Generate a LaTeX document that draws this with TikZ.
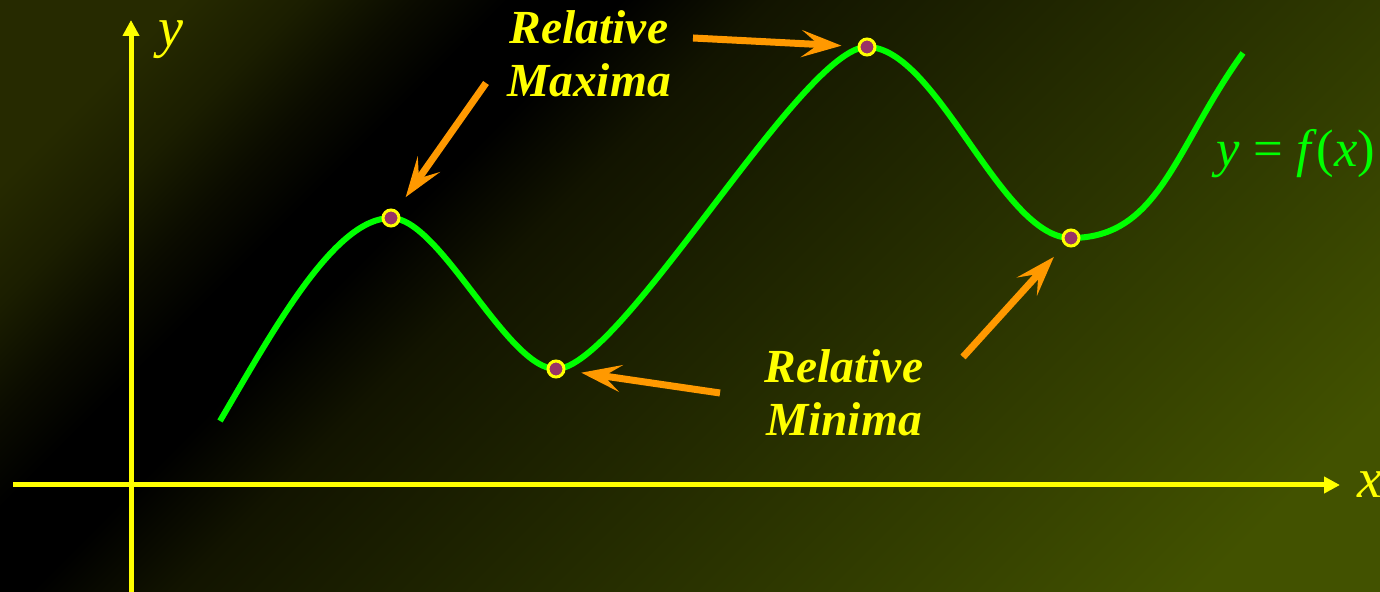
\documentclass[tikz,border=0pt]{standalone}
\usepackage{fontspec}
\setmainfont{Liberation Serif}
\usetikzlibrary{arrows.meta}
\definecolor{slidedark}{RGB}{38,42,0}
\definecolor{slidemid}{RGB}{27,30,0}
\definecolor{slidedeep}{RGB}{11,12,0}
\definecolor{slidedim}{RGB}{18,20,0}
\definecolor{slidelight}{RGB}{66,82,0}
\definecolor{curvegreen}{HTML}{00FF00}
\definecolor{axisyellow}{HTML}{FFFF00}
\definecolor{pointerorange}{HTML}{FF9900}
\definecolor{extremumfill}{HTML}{993366}
\pgfdeclarehorizontalshading{slidebg}{100bp}{color(0bp)=(slidedark); color(29.3bp)=(slidedark); color(32.4bp)=(slidemid); color(35.2bp)=(slidedeep); color(37.7bp)=(black); color(40.6bp)=(black); color(44.4bp)=(slidedim); color(70.7bp)=(slidelight); color(100bp)=(slidelight)}

\begin{document}
\begin{tikzpicture}[
      axis/.style={draw=axisyellow, line width=0.05cm,
        -{Triangle[length=0.16cm, width=0.16cm]}},
      graph/.style={draw=curvegreen, line width=0.06cm},
      extremum/.style={circle, fill=extremumfill, draw=axisyellow,
        line width=0.03cm, minimum size=0.16cm, inner sep=0pt},
      callout/.style={text=axisyellow, align=center,
        font=\fontsize{13.5}{15.1}\selectfont\bfseries\itshape},
      axislabel/.style={text=axisyellow,
        font=\fontsize{16}{19}\selectfont\itshape},
      pointer/.style={draw=pointerorange, line width=0.07cm,
        -{Stealth[length=0.4cm, width=0.27cm, inset=0.17cm]},
        shorten >=0.16cm}
    ]
      \useasboundingbox (0,0) rectangle (13.8,5.92);
      \begin{scope}
        \clip (0,0) rectangle (13.8,5.92);
        \shade[shading=slidebg, shading angle=-45] (0,-3.94) rectangle (13.8,9.86);
      \end{scope}

      % axes
      \coordinate (ybottom) at (1.31,0);
      \coordinate (ytop) at (1.31,5.72);
      \coordinate (xleft) at (0.13,1.07);
      \coordinate (xright) at (13.40,1.07);
      \draw[axis] (ybottom) -- (ytop);
      \draw[axis] (xleft) -- (xright);
      \node[axislabel] (ylabel) at (1.71,5.52) {y};
      \node[axislabel] (xlabel) at (13.70,1.07) {x};

      % the function
      \coordinate (cstart) at (2.20,1.71);
      \coordinate (cmax1) at (3.91,3.74);
      \coordinate (cmin1) at (5.56,2.23);
      \coordinate (cmax2) at (8.67,5.45);
      \coordinate (cmin2) at (10.71,3.54);
      \coordinate (cend) at (12.43,5.39);
      \draw[graph] (cstart) .. controls (2.75,2.65) and (3.35,3.74) .. (cmax1)
        .. controls (4.40,3.74) and (5.07,2.23) .. (cmin1)
        .. controls (6.21,2.23) and (8.02,5.45) .. (cmax2)
        .. controls (9.37,5.45) and (10.01,3.54) .. (cmin2)
        .. controls (11.60,3.54) and (11.75,4.45) .. (cend);
      \node[text=curvegreen, font=\fontsize{15}{18}\selectfont, anchor=base]
        (fxlabel) at (12.96,4.25) {\textit{y} = \textit{f}(\textit{x})};

      \node[extremum] (max1) at (cmax1) {};
      \node[extremum] (min1) at (cmin1) {};
      \node[extremum] (max2) at (cmax2) {};
      \node[extremum] (min2) at (cmin2) {};

      % labels and pointers
      \node[callout] (maxlabel) at (5.89,5.38) {Relative\\Maxima};
      \node[callout] (minlabel) at (8.44,1.99) {Relative\\Minima};
      \coordinate (maxtail1) at (4.86,5.09);
      \coordinate (maxtail2) at (6.93,5.54);
      \coordinate (mintail1) at (7.20,1.99);
      \coordinate (mintail2) at (9.63,2.35);
      \draw[pointer] (maxtail1) -- (max1);
      \draw[pointer] (maxtail2) -- (max2);
      \draw[pointer] (mintail1) -- (min1);
      \draw[pointer] (mintail2) -- (min2);
    \end{tikzpicture}
\end{document}
